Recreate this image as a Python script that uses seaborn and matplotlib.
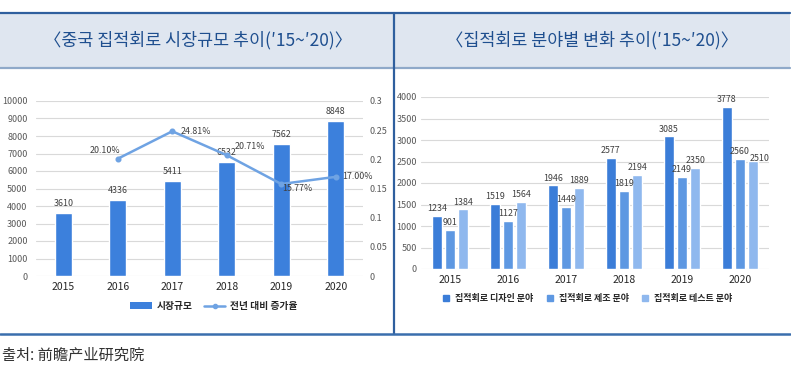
import matplotlib
matplotlib.use("Agg")
import matplotlib.pyplot as plt
from matplotlib.lines import Line2D
from matplotlib.patches import Patch, Rectangle
import seaborn as sns
import pandas as pd

# ---- data ----
years = ["2015", "2016", "2017", "2018", "2019", "2020"]
market_size = [3610, 4336, 5411, 6532, 7562, 8848]
growth_years = ["2016", "2017", "2018", "2019", "2020"]
growth_rate = [0.2010, 0.2481, 0.2071, 0.1577, 0.1700]
growth_labels = ["20.10%", "24.81%", "20.71%", "15.77%", "17.00%"]

segments = ["집적회로 디자인 분야", "집적회로 제조 분야", "집적회로 테스트 분야"]
design = [1234, 1519, 1946, 2577, 3085, 3778]
manufacturing = [901, 1127, 1449, 1819, 2149, 2560]
testing = [1384, 1564, 1889, 2194, 2350, 2510]

title_left = "〈중국 집적회로 시장규모 추이(′15~′20)〉"
title_right = "〈집적회로 분야별 변화 추이(′15~′20)〉"
source_text = "출처: 前瞻产业研究院"

sns.set_theme(style="white")
plt.rcParams["font.family"] = ["Noto Sans CJK KR", "Noto Sans CJK SC", "DejaVu Sans"]

W, H = 791, 369
fig = plt.figure(figsize=(W / 100, H / 100), dpi=100)

def fx(px):
    return px / W

def fy(py):
    return 1 - py / H

# ---- frame / header ----
frame_dark = "#2F5F9E"
fig.patches.append(Rectangle((0, fy(68)), fx(790), fy(13) - fy(68), transform=fig.transFigure,
                             facecolor="#DFE6F0", edgecolor="none", zorder=0))
fig.add_artist(Line2D([0, fx(790)], [fy(12.5), fy(12.5)], color=frame_dark, lw=1.6))
fig.add_artist(Line2D([0, fx(790)], [fy(68), fy(68)], color="#8FA9C9", lw=1.6))
fig.add_artist(Line2D([fx(394), fx(394)], [fy(12.5), fy(334)], color=frame_dark, lw=1.6))
fig.add_artist(Line2D([0, fx(790)], [fy(334), fy(334)], color="#3A6EAD", lw=1.8))

title_color = "#1F4F8F"
fig.text(fx(198), fy(40), title_left, ha="center", va="center", fontsize=12.5, color=title_color)
fig.text(fx(592), fy(40), title_right, ha="center", va="center", fontsize=12.5, color=title_color)
fig.text(fx(2), fy(355), source_text, ha="left", va="center", fontsize=11, color="#333333")

grid_c = "#D9D9D9"
tick_c = "#595959"
label_c = "#404040"
lab_fs = 6.4

# ---- left chart ----
bar_c = "#3C80DC"
line_c = "#6FA3E3"
ax1 = fig.add_axes([fx(36), fy(276), fx(363) - fx(36), fy(101) - fy(276)])
df1 = pd.DataFrame({"year": years, "size": market_size})
sns.barplot(data=df1, x="year", y="size", order=years, color=bar_c, width=0.32,
            saturation=1, ax=ax1, zorder=3)
ax1.set_ylim(0, 10000)
ax1.set_yticks(range(0, 10001, 1000))
ax1.set_xlim(-0.5, 5.5)
ax1.yaxis.grid(True, color=grid_c, lw=0.8)
ax1.set_axisbelow(True)
for s in ax1.spines.values():
    s.set_visible(False)
ax1.set_xlabel("")
ax1.set_ylabel("")
ax1.tick_params(axis="y", labelsize=6.5, colors=tick_c, length=0, pad=6)
ax1.tick_params(axis="x", labelsize=7.5, colors="#262626", length=0, pad=4)
for i, v in enumerate(market_size):
    ax1.annotate(str(v), (i, v), xytext=(0, 3.5), textcoords="offset points",
                 ha="center", va="bottom", fontsize=lab_fs, color=label_c)

ax2 = ax1.twinx()
df2 = pd.DataFrame({"year": growth_years, "rate": growth_rate})
sns.pointplot(data=df2, x="year", y="rate", order=years, color=line_c, markers="o",
              markersize=3, linewidth=1.8, ax=ax2)
ax2.set_ylim(0, 0.3)
ax2.set_yticks([0, 0.05, 0.1, 0.15, 0.2, 0.25, 0.3])
ax2.set_yticklabels(["0", "0.05", "0.1", "0.15", "0.2", "0.25", "0.3"])
ax2.set_xlim(-0.5, 5.5)
for s in ax2.spines.values():
    s.set_visible(False)
ax2.set_ylabel("")
ax2.set_xlabel("")
ax2.tick_params(axis="y", labelsize=6.5, colors=tick_c, length=0, pad=5)
offsets = [(1.5, 6, "right"), (6, 0, "left"), (5.5, 6, "left"), (1, -3, "left"), (5, 0, "left")]
for i, (lab, v) in enumerate(zip(growth_labels, growth_rate)):
    dx, dy, ha = offsets[i]
    xi = years.index(growth_years[i])
    ax2.annotate(lab, (xi, v), xytext=(dx, dy), textcoords="offset points",
                 ha=ha, va="center", fontsize=lab_fs, color=label_c)

h1 = [Patch(facecolor=bar_c, edgecolor="none"),
      Line2D([], [], color=line_c, lw=1.8, marker="o", markersize=3)]
fig.legend(h1, ["시장규모", "전년 대비 증가율"], loc="center", ncol=2,
           bbox_to_anchor=(fx(214), fy(306)), frameon=False,
           handlelength=2.2, handleheight=0.6, columnspacing=1.2, handletextpad=0.5,
           prop={"weight": "bold", "size": 7})

# ---- right chart ----
seg_colors = ["#3B7DD8", "#5E98E2", "#8FB8EE"]
ax3 = fig.add_axes([fx(421), fy(269), fx(769) - fx(421), fy(97) - fy(269)])
rows = []
for seg, vals in zip(segments, [design, manufacturing, testing]):
    for y, v in zip(years, vals):
        rows.append({"year": y, "segment": seg, "value": v})
df3 = pd.DataFrame(rows)
sns.barplot(data=df3, x="year", y="value", hue="segment", order=years, hue_order=segments,
            palette=seg_colors, width=0.68, gap=0.2, saturation=1, ax=ax3, legend=False,
            zorder=3)
ax3.set_ylim(0, 4000)
ax3.set_yticks(range(0, 4001, 500))
ax3.set_xlim(-0.5, 5.5)
ax3.yaxis.grid(True, color=grid_c, lw=0.8)
ax3.set_axisbelow(True)
for s in ax3.spines.values():
    s.set_visible(False)
ax3.set_xlabel("")
ax3.set_ylabel("")
ax3.tick_params(axis="y", labelsize=6.5, colors=tick_c, length=0, pad=3)
ax3.tick_params(axis="x", labelsize=7.5, colors="#262626", length=0, pad=4)
special = {(2, 5): (5, -1.5)}  # testing 2020 label nudged right/down
for si, cont in enumerate(ax3.containers):
    for yi, bar in enumerate(cont):
        h = bar.get_height()
        dx, dy = special.get((si, yi), (0, 2))
        ax3.annotate(f"{int(round(h))}", (bar.get_x() + bar.get_width() / 2, h),
                     xytext=(dx, dy), textcoords="offset points",
                     ha="center", va="bottom", fontsize=lab_fs, color=label_c)

h3 = [Line2D([], [], marker="s", color=c, lw=0, markersize=4) for c in seg_colors]
fig.legend(h3, segments, loc="center", ncol=3, bbox_to_anchor=(fx(587), fy(299)),
           frameon=False, handlelength=1.0, columnspacing=1.3, handletextpad=0.5,
           prop={"weight": "bold", "size": 6.5})

fig.savefig("out.png", dpi=100)
